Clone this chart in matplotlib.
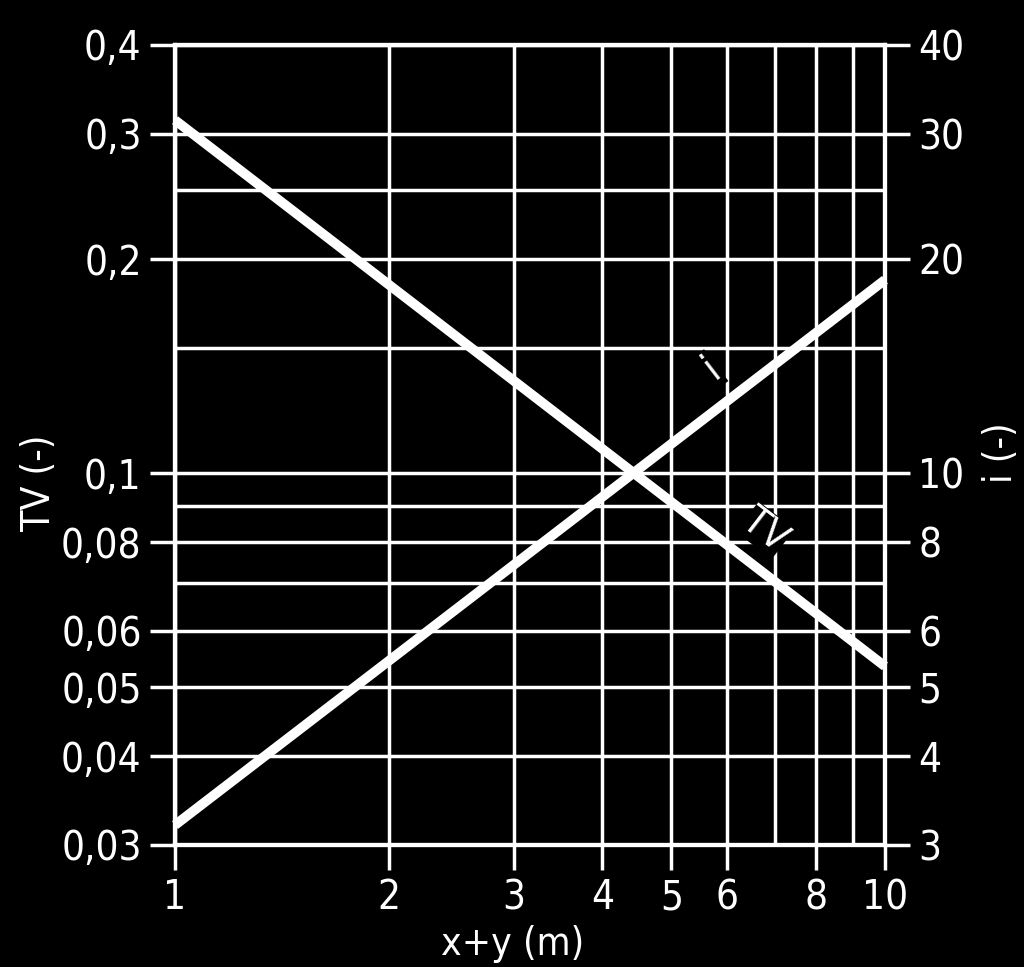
import matplotlib
matplotlib.use('Agg')
import matplotlib.pyplot as plt
from matplotlib.ticker import FixedLocator, FixedFormatter, NullFormatter

plt.rcParams['font.family'] = ['DejaVu Sans']
plt.rcParams['font.stretch'] = 'condensed'

# data
xpts = [1, 10]
tv = [0.3136, 0.0535]
ivals = [3.2, 18.7]

xmajor = [1, 2, 3, 4, 5, 6, 8, 10]
xminor = [7, 9]
tvmajor = [0.03, 0.04, 0.05, 0.06, 0.08, 0.1, 0.2, 0.3, 0.4]
tvlabels = ['0,03', '0,04', '0,05', '0,06', '0,08', '0,1', '0,2', '0,3', '0,4']
tvminor = [0.07, 0.09, 0.15, 0.25]
imajor = [3, 4, 5, 6, 8, 10, 20, 30, 40]

fig = plt.figure(figsize=(10.24, 9.67), dpi=100, facecolor='black')
ax = fig.add_axes([175/1024, 1 - 845/967, 710/1024, 800/967])
ax.set_facecolor('black')
ax.set_xscale('log')
ax.set_yscale('log')
ax.set_xlim(1, 10)
ax.set_ylim(0.03, 0.4)

ax2 = ax.twinx()
ax2.set_yscale('log')
ax2.set_ylim(3, 40)

ax.xaxis.set_major_locator(FixedLocator(xmajor))
ax.xaxis.set_major_formatter(FixedFormatter([str(v) for v in xmajor]))
ax.xaxis.set_minor_locator(FixedLocator(xminor))
ax.xaxis.set_minor_formatter(NullFormatter())
ax.yaxis.set_major_locator(FixedLocator(tvmajor))
ax.yaxis.set_major_formatter(FixedFormatter(tvlabels))
ax.yaxis.set_minor_locator(FixedLocator(tvminor))
ax.yaxis.set_minor_formatter(NullFormatter())
ax2.yaxis.set_major_locator(FixedLocator(imajor))
ax2.yaxis.set_major_formatter(FixedFormatter([str(v) for v in imajor]))
ax2.yaxis.set_minor_locator(FixedLocator([]))

ax.grid(True, which='both', color='white', lw=2.5)
ax.set_axisbelow(True)

for a in (ax, ax2):
    for s in a.spines.values():
        s.set_color('white')
        s.set_linewidth(3)
    a.tick_params(which='major', length=18, width=2.5, color='white',
                  labelcolor='white', labelsize=29, pad=6)
    a.tick_params(which='minor', length=0)
ax.tick_params(axis='y', right=False)
ax.tick_params(axis='x', top=False, pad=6)

ax.plot(xpts, tv, color='white', lw=7, solid_capstyle='butt', clip_on=False)
ax.plot(xpts, [v / 100 for v in ivals], color='white', lw=7, solid_capstyle='butt', clip_on=False)

ax.text(5.71, 0.1405, 'i', color='white', fontsize=29, rotation=37.5,
        ha='center', va='center', rotation_mode='anchor',
        bbox=dict(facecolor='black', edgecolor='none', pad=0))
ax.text(6.78, 0.0831, 'TV', color='white', fontsize=28, rotation=-37.5,
        ha='center', va='center', rotation_mode='anchor',
        bbox=dict(facecolor='black', edgecolor='none', pad=0))

ax.set_xlabel('x+y (m)', color='white', fontsize=28)
ax.xaxis.set_label_coords(0.475, -0.1)
ax.set_ylabel('TV (-)', color='white', fontsize=28)
ax.yaxis.set_label_coords(-0.165, 0.4525)
ax2.set_ylabel('i (-)', color='white', fontsize=28)
ax2.yaxis.set_label_coords(1.137, 0.49)

fig.savefig('out.png', dpi=100, facecolor='black')
